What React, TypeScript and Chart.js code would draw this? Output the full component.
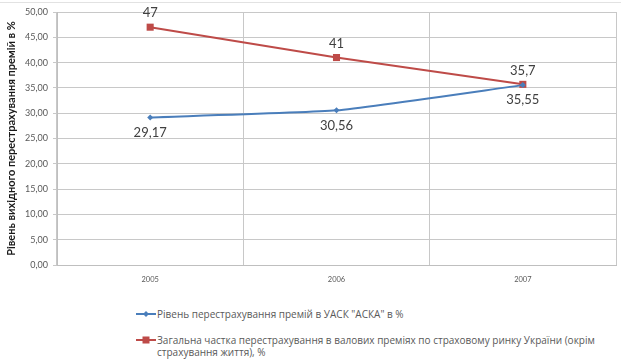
import React, { useEffect, useRef } from "react";
import { Chart, registerables } from "chart.js";

Chart.register(...registerables);

const categories = ["2005", "2006", "2007"];
const askaValues = [29.17, 30.56, 35.55];
const marketValues = [47, 41, 35.7];
const askaLabel = 'Рівень перестрахування премій в УАСК "АСКА" в %';
const marketLabelLine1 = "Загальна частка перестрахування в валових преміях по страховому ринку України (окрім";
const marketLabelLine2 = "страхування життя), %";
const yTitle = "Рівень вихідного перестрахування премій в %";

const BLUE = "#4A7EBB";
const RED = "#BE4B48";
const FONT = "Lato, 'Open Sans', sans-serif";
const LEGEND_FONT = "'Open Sans', Lato, sans-serif";

const fmt = (v: number) => String(v).replace(".", ",");

const dataLabelPlugin = {
  id: "dataLabels",
  afterDatasetsDraw(chart: any) {
    const ctx = chart.ctx;
    ctx.save();
    ctx.font = `13px ${FONT}`;
    ctx.fillStyle = "#404040";
    ctx.textAlign = "center";
    ctx.textBaseline = "middle";
    chart.data.datasets.forEach((ds: any, i: number) => {
      const meta = chart.getDatasetMeta(i);
      const off = ds.labelOffset as number;
      meta.data.forEach((pt: any, j: number) => {
        ctx.fillText(fmt(ds.data[j]), pt.x, pt.y + off);
      });
    });
    ctx.restore();
  },
};

export default function App() {
  const ref = useRef<HTMLCanvasElement | null>(null);
  useEffect(() => {
    if (!ref.current) return;
    const chart = new Chart(ref.current, {
      type: "line",
      data: {
        labels: categories,
        datasets: [
          {
            label: askaLabel,
            data: askaValues,
            borderColor: BLUE,
            backgroundColor: BLUE,
            borderWidth: 2,
            pointStyle: "rectRot",
            pointRadius: 3,
            pointBorderWidth: 0,
            tension: 0.15,
            labelOffset: 15,
          } as any,
          {
            label: marketLabelLine1 + " " + marketLabelLine2,
            data: marketValues,
            borderColor: RED,
            backgroundColor: RED,
            borderWidth: 2,
            pointStyle: "rect",
            pointRadius: 5,
            pointBorderWidth: 0,
            tension: 0,
            labelOffset: -14,
          } as any,
        ],
      },
      options: {
        animation: false,
        responsive: true,
        maintainAspectRatio: false,
        layout: { padding: { top: 12, left: 0, right: 3, bottom: 0 } },
        plugins: { legend: { display: false }, tooltip: { enabled: false } },
        scales: {
          x: {
            offset: true,
            grid: { color: "#c8c8c8", drawTicks: false, offset: true },
            border: { color: "#bfbfbf" },
            ticks: { color: "#595959", font: { family: FONT, size: 7.5 }, padding: 10 },
            afterFit: (s: any) => { s.height = 25; },
          },
          y: {
            min: 0,
            max: 50,
            grid: { color: "#c8c8c8", tickLength: 4 },
            border: { color: "#bfbfbf" },
            ticks: {
              stepSize: 5,
              color: "#595959",
              font: { family: FONT, size: 9 },
              padding: 5,
              callback: (v: any) => Number(v).toFixed(2).replace(".", ","),
            },
            title: {
              display: true,
              text: yTitle,
              color: "#1a1a1a",
              font: { family: FONT, size: 11, weight: "bold" },
              padding: { top: 5, bottom: 0 },
            },
            afterFit: (s: any) => { s.width = 57; },
          },
        },
      },
      plugins: [dataLabelPlugin],
    });
    return () => chart.destroy();
  }, []);

  const legendText: React.CSSProperties = {
    position: "absolute",
    left: 157,
    fontFamily: LEGEND_FONT,
    fontSize: 10,
    color: "#595959",
    lineHeight: "13px",
    whiteSpace: "nowrap",
  };

  return (
    <div style={{ position: "absolute", left: 0, top: 0, width: 621, height: 361, background: "#fff", overflow: "hidden" }}>
      <div style={{ position: "absolute", left: 0, top: 2, width: 621, height: 1, background: "#e2e2e2" }} />
      <div style={{ position: "absolute", left: 0, top: 0, width: 621, height: 290 }}>
        <canvas ref={ref} />
      </div>
      <svg style={{ position: "absolute", left: 134, top: 308 }} width={24} height={12}>
        <line x1={2} y1={6} x2={22} y2={6} stroke={BLUE} strokeWidth={2} />
        <polygon points="12,3 15,6 12,9 9,6" fill={BLUE} />
      </svg>
      <div style={{ ...legendText, top: 307.5 }}>{askaLabel}</div>
      <svg style={{ position: "absolute", left: 134, top: 334 }} width={24} height={12}>
        <line x1={2} y1={6} x2={22} y2={6} stroke={RED} strokeWidth={2} />
        <rect x={8.5} y={2.5} width={7} height={7} fill={RED} />
      </svg>
      <div style={{ ...legendText, top: 333.5, lineHeight: "12px" }}>
        {marketLabelLine1}
        <br />
        {marketLabelLine2}
      </div>
    </div>
  );
}
